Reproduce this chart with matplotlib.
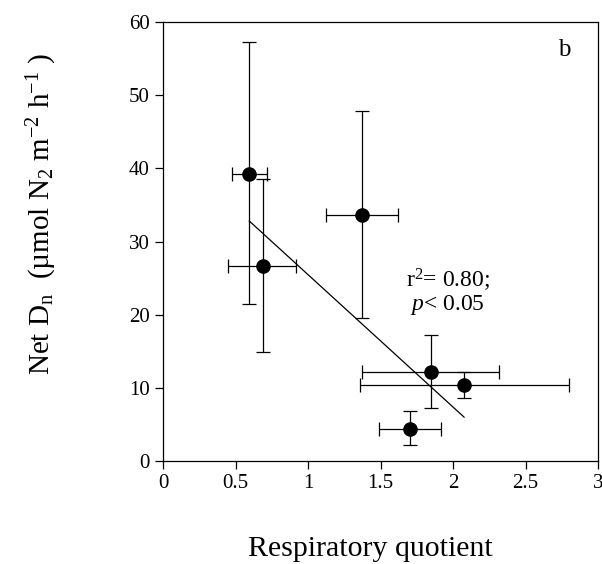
import matplotlib
matplotlib.use("Agg")
import matplotlib.pyplot as plt
import numpy as np

# respiratory quotient (x) and net Dn (y), with error bar ends
rq = [0.595, 0.687, 1.375, 1.848, 2.078, 1.703]
rq_lo = [0.474, 0.446, 1.124, 1.375, 1.359, 1.490]
rq_hi = [0.720, 0.915, 1.623, 2.319, 2.802, 1.917]
dn = [39.2, 26.7, 33.6, 12.2, 10.4, 4.4]
dn_lo = [21.4, 14.9, 19.6, 7.3, 8.65, 2.2]
dn_hi = [57.2, 38.5, 47.9, 17.2, 12.2, 6.8]

# regression line end points
fit_x = [0.595, 2.076]
fit_y = [32.8, 6.0]

x_ticks = [0, 0.5, 1, 1.5, 2, 2.5, 3]
x_labels = ["0", "0.5", "1", "1.5", "2", "2.5", "3"]
y_ticks = [0, 10, 20, 30, 40, 50, 60]

plt.rcParams['font.family'] = 'Liberation Serif'
plt.rcParams['mathtext.fontset'] = 'custom'
plt.rcParams['mathtext.rm'] = 'Liberation Serif'
plt.rcParams['mathtext.it'] = 'Liberation Serif:italic'

fig = plt.figure(figsize=(6.02, 5.64), dpi=100)
ax = fig.add_axes([0.2708, 0.1826, 0.7226, 0.7784])

x = np.array(rq)
y = np.array(dn)
xerr = [x - np.array(rq_lo), np.array(rq_hi) - x]
yerr = [y - np.array(dn_lo), np.array(dn_hi) - y]

ax.errorbar(x, y, xerr=xerr, yerr=yerr, fmt='o', color='black',
            markersize=9.5, ecolor='black', elinewidth=0.9, capsize=5,
            capthick=0.9, zorder=3)
ax.plot(fit_x, fit_y, color='black', linewidth=0.9)

ax.text(0.922, 0.936, "b", transform=ax.transAxes, fontsize=18,
        ha='center', va='center')
ax.text(448 / 602, 1 - 280 / 564, "r$^2$= 0.80;", transform=fig.transFigure,
        fontsize=17, ha='center', va='center')
ax.text(447 / 602, 1 - 305 / 564, "$p$< 0.05", transform=fig.transFigure,
        fontsize=17, ha='center', va='center')

ax.set_xlim(0, 3)
ax.set_ylim(0, 60)
ax.set_xticks(x_ticks)
ax.set_xticklabels(x_labels)
ax.set_yticks(y_ticks)
ax.tick_params(direction='out', length=6, width=0.9, labelsize=15,
               top=False, right=False)
for s in ax.spines.values():
    s.set_linewidth(0.9)

ax.set_xlabel("Respiratory quotient", fontsize=21.5)
ax.xaxis.set_label_coords(0.476, -0.17)
ax.set_ylabel("Net D$_\\mathrm{n}$  (\u00b5mol N$_2$ m$^{-2}$ h$^{-1}$ )",
              fontsize=21)
ax.yaxis.set_label_coords(-0.238, 0.563)

fig.savefig("out.png", dpi=100)
